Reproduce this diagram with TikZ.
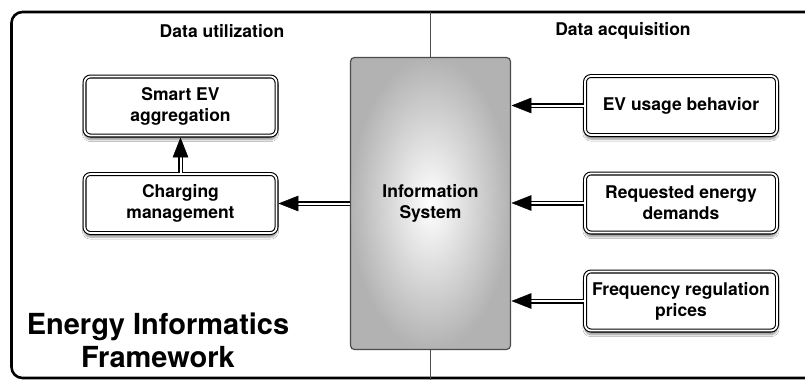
\documentclass[tikz,border=0pt]{standalone}
\usepackage{fontspec}
\setmainfont{TeX Gyre Heros}
\usetikzlibrary{shadows.blur}
\begin{document}
\begin{tikzpicture}[x=1pt,y=-1pt,
  box/.style={draw=black, line width=1.1pt, double=white, double distance=1.8pt, fill=white,
    rounded corners=6pt, minimum width=192pt, minimum height=59pt, inner sep=0pt,
    align=center, font=\bfseries\fontsize{17.5}{21}\selectfont,
    blur shadow={shadow xshift=0pt, shadow yshift=-4pt, shadow blur steps=6, shadow opacity=45}},
  infobox/.style={draw=black!70, line width=1.2pt, rounded corners=4pt,
    inner color=white, outer color=black!30, minimum width=160pt, minimum height=292pt, inner sep=0pt,
    align=center, font=\bfseries\fontsize{17.5}{21}\selectfont},
  heading/.style={font=\bfseries\fontsize{17.5}{20}\selectfont, inner sep=0pt},
  titletext/.style={font=\bfseries\fontsize{29}{33}\selectfont, align=center, inner sep=0pt},
  shaft/.style={draw=black, line width=1.5pt, double=white, double distance=2pt, shorten >=16pt},
  headtip/.style={fill=black, draw=black, line width=0.4pt, line join=miter},
  divider/.style={draw=black!70, line width=0.8pt}
]
\useasboundingbox (0,0) rectangle (805,380);
\fill[white] (0,0) rectangle (805,380);
\begin{scope}
\clip (0,0) rectangle (805,380);
\draw[line width=2.6pt, rounded corners=11pt] (11.5,12) rectangle (830,378);
\end{scope}

\node[infobox] (info) at (430.5,203.5) {Information\\System};
\coordinate (dtop) at (430,12);
\coordinate (dbot) at (430,380);
\draw[divider] (dtop) -- (info.north -| dtop);
\draw[divider] (info.south -| dbot) -- (dbot);

\node[heading] (hu) at (222,31) {Data utilization};
\node[heading] (ha) at (623,31) {Data acquisition};

\node[box] (smart) at (180.5,106) {Smart EV\\aggregation};
\node[box] (charge) at (180.5,203.5) {Charging\\management};

\node[box] (ev) at (681,105.5) {EV usage behavior};
\node[box] (req) at (681,203) {Requested energy\\demands};
\node[box] (freq) at (681,301) {Frequency regulation\\prices};

\node[titletext] (title) at (158,340) {Energy Informatics\\Framework};

% arrows: double shaft + solid triangular head
\draw[shaft] (charge.north) -- ([yshift=-2pt]smart.south);
\fill[headtip] ([yshift=-2pt]smart.south) -- ++(-7.5,19) -- ++(15,0) -- cycle;

\draw[shaft] (info.west |- charge.east) -- ([xshift=2pt]charge.east);
\fill[headtip] ([xshift=2pt]charge.east) -- ++(19,-7.5) -- ++(0,15) -- cycle;

\draw[shaft] (ev.west) -- ([xshift=1pt]ev.west -| info.east);
\fill[headtip] ([xshift=1pt]ev.west -| info.east) -- ++(19,-7.5) -- ++(0,15) -- cycle;

\draw[shaft] (req.west) -- ([xshift=1pt]req.west -| info.east);
\fill[headtip] ([xshift=1pt]req.west -| info.east) -- ++(19,-7.5) -- ++(0,15) -- cycle;

\draw[shaft] (freq.west) -- ([xshift=1pt]freq.west -| info.east);
\fill[headtip] ([xshift=1pt]freq.west -| info.east) -- ++(19,-7.5) -- ++(0,15) -- cycle;
\end{tikzpicture}
\end{document}
